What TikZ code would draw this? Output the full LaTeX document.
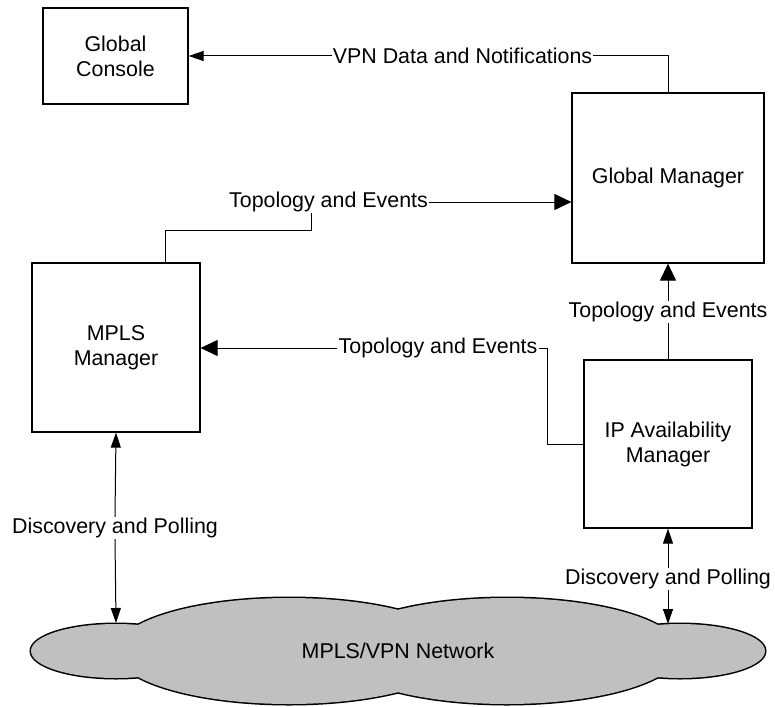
\documentclass[tikz,border=0pt]{standalone}
\usepackage{fontspec}
\setmainfont{Liberation Sans}
\usetikzlibrary{arrows.meta,calc}
\definecolor{cloudgray}{HTML}{C0C0C0}
\begin{document}
\begin{tikzpicture}[x=1pt,y=-1pt,
  every node/.style={font=\fontsize{21.4}{25}\selectfont},
  box/.style={draw, line width=1.2pt, align=center, inner sep=0pt},
  lbl/.style={fill=white, inner sep=1pt},
  conn/.style={line width=1pt},
  bigarr/.style={conn, -{Triangle[length=17pt,width=16pt]}},
  smallarr/.style={conn, -{Triangle[length=15pt,width=10pt]}},
]
\useasboundingbox (0,0) rectangle (775,706);

% cloud
\foreach \cx/\rx/\ry in {116/85/27,289/173/53,507/173/53,680/85/27}
  \draw[line width=3pt] (\cx,651) ellipse [x radius=\rx pt, y radius=\ry pt];
\foreach \cx/\rx/\ry in {116/85/27,289/173/53,507/173/53,680/85/27}
  \fill[cloudgray] (\cx,651) ellipse [x radius=\rx pt, y radius=\ry pt];
\node (net) at (398,651) {MPLS/VPN Network};
\coordinate (c1) at (116,623);
\coordinate (c2) at (668,624);

% boxes
\node[box, minimum width=145pt, minimum height=96pt] (GC) at (115.5,56) {Global\\Console};
\node[box, minimum width=192pt, minimum height=170pt] (GM) at (668,178) {Global Manager};
\node[box, minimum width=168pt, minimum height=169pt] (MM) at (116,347.5) {MPLS\\Manager};
\node[box, minimum width=168pt, minimum height=168pt] (IP) at (668,444) {IP Availability\\Manager};

% labels
\node[lbl] (l1) at (462.5,56) {VPN Data and Notifications};
\node[lbl] (l2) at (328.5,202) {Topology and Events};
\node[lbl] (l3) at (438,348) {Topology and Events};
\node[lbl] (l4) at (668,312) {Topology and Events};
\node[lbl] (l5) at (115,528) {Discovery and Polling};
\node[lbl] (l6) at (668,579) {Discovery and Polling};

% connectors
\draw[conn] (GM.north) |- (l1.east);
\draw[smallarr] (l1.west) -- (GC.east);
\draw[bigarr] (l2.east) -- (l2.east -| GM.west);
\draw[conn] ($(MM.north)+(49,0)$) |- ($(l2.south)+(-17.5,17)$) -- ($(l2.south)+(-17.5,0)$);
\draw[conn] (IP.west) -| ($(l3.east)+(9,0)$) -- (l3.east);
\draw[bigarr] (l3.west) -- (l3.west -| MM.east);
\draw[conn] (IP.north) -- (l4.south);
\draw[bigarr] (l4.north) -- (GM.south);
\draw[smallarr] (l5.north) -- (MM.south);
\draw[smallarr] (l5.south) -- (c1);
\draw[smallarr] (l6.north) -- (IP.south);
\draw[smallarr] (l6.south) -- (c2);
\end{tikzpicture}
\end{document}
